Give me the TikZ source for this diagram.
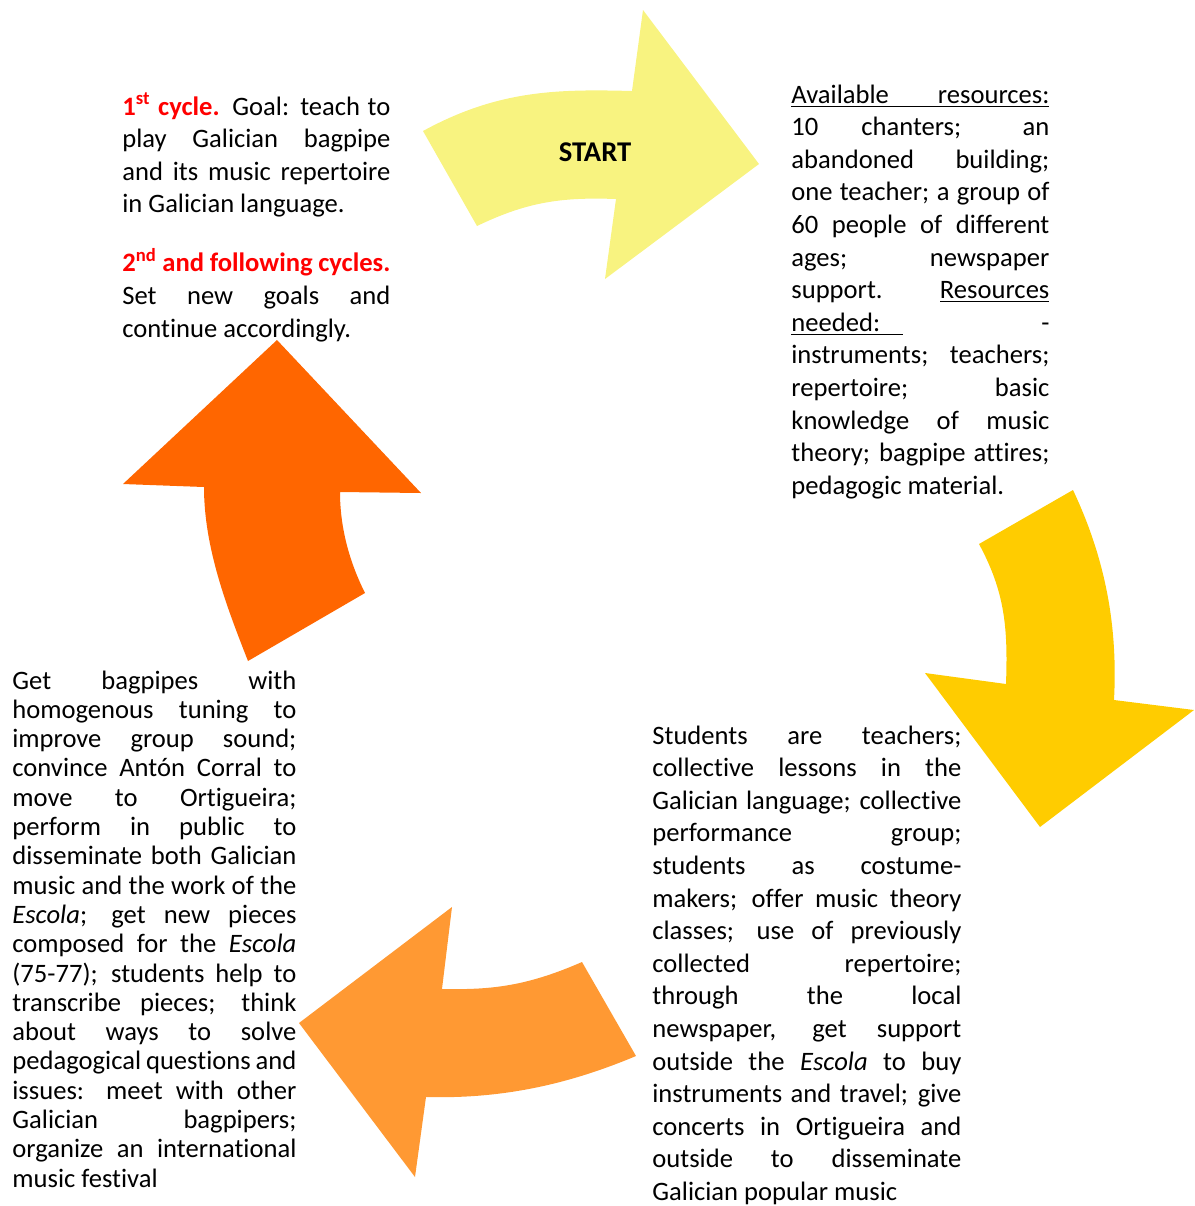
\documentclass[tikz,border=0pt]{standalone}
\usepackage{fontspec}
\setmainfont{Carlito}[Ligatures={TeX,NoCommon}]
\usepackage{xcolor}
\usepackage{tikz}
\definecolor{startyellow}{HTML}{F8F380}
\definecolor{cyclegold}{HTML}{FFCC00}
\definecolor{lightorange}{HTML}{FF9933}
\definecolor{deeporange}{HTML}{FF6600}
\tikzset{
  %% Text blocks (justified, lines broken as in the figure)
  cycletext/.style={
    anchor=base west, inner sep=0pt, align=justify,
    font=\fontsize{13.3}{16.3}\selectfont},
  tighttext/.style={
    cycletext, font=\fontsize{13.3}{14.65}\selectfont},
  %% Label on the first arrow
  startlabel/.style={
    inner sep=0pt, font=\fontsize{14.3}{16}\selectfont\bfseries},
  %% Block arrows
  arrowshape/.style={draw=none},
}
\newcommand{\cyclehead}[1]{{\color{red}\bfseries #1}}
\tolerance=10000
\hbadness=10000
\hyphenpenalty=10000

\begin{document}
\begin{tikzpicture}[x=0.5pt, y=-0.5pt]

  \useasboundingbox (0,0) rectangle (1195,1206);

  %% Start arrow (yellow)
  \fill[arrowshape, startyellow] (423,131) .. controls (498,90) and (557,89) .. (632,91)
    -- (643,10) -- (759,164) -- (605,279) -- (616,199)
    .. controls (561,197) and (527,202) .. (477,226) -- cycle;
  \node[startlabel] (start) at (595,152) {START};

  %% Second arrow (gold)
  \fill[arrowshape, cyclegold] (979,544) -- (1073,490)
    .. controls (1105,558) and (1118,625) .. (1114,700)
    -- (1194,710) -- (1040,827) -- (925,673) -- (1006,684)
    .. controls (1008,628) and (1005,592) .. (979,544) -- cycle;

  %% Third arrow (light orange)
  \fill[arrowshape, lightorange] (582,962) .. controls (527,986) and (492,990) .. (442,989)
    -- (452,907) -- (299,1023) -- (415,1177) -- (426,1097)
    .. controls (501,1099) and (567,1085) .. (636,1056) -- cycle;

  %% Fourth arrow (dark orange)
  \fill[arrowshape, deeporange] (277,340) -- (421,493) -- (340,492)
    .. controls (340,527) and (349,561) .. (365,593)
    -- (248,661) .. controls (226,605) and (204,547) .. (204,487)
    -- (123,484) -- cycle;

  %% Goals
  \node[cycletext, text width=134pt] (goals) at (122,115) {%
    \cyclehead{1\textsuperscript{st} cycle.} Goal: teach to\linebreak
    play Galician bagpipe\linebreak
    and its music repertoire\linebreak
    in Galician language.\par\vspace{13.2pt}
    \cyclehead{2\textsuperscript{nd} and following cycles.}\linebreak
    Set new goals and\linebreak
    continue accordingly.};

  %% Resources
  \node[cycletext, text width=129pt] (resources) at (791,103) {%
    \underline{\makebox[\linewidth][s]{Available resources:}}\linebreak
    10 chanters; an\linebreak
    abandoned building;\linebreak
    one teacher; a group of\linebreak
    60 people of different\linebreak
    ages; newspaper\linebreak
    support. \underline{Resources}\linebreak
    \underline{needed:\hspace{11.5pt}}\hfill-\linebreak
    instruments; teachers;\linebreak
    repertoire; basic\linebreak
    knowledge of music\linebreak
    theory; bagpipe attires;\linebreak
    pedagogic material.};

  %% Strategies
  \node[cycletext, text width=154.5pt] (strategies) at (652,744) {%
    Students are teachers;\linebreak
    collective lessons in the\linebreak
    Galician language; collective\linebreak
    performance group;\linebreak
    students as costume-\linebreak
    makers; offer music theory\linebreak
    classes; use of previously\linebreak
    collected repertoire;\linebreak
    through the local\linebreak
    newspaper, get support\linebreak
    outside the \textit{Escola} to buy\linebreak
    instruments and travel; give\linebreak
    concerts in Ortigueira and\linebreak
    outside to disseminate\linebreak
    Galician popular music};

  %% Evaluation
  \node[tighttext, text width=142pt] (evaluation) at (12,689) {%
    Get bagpipes with\linebreak
    homogenous tuning to\linebreak
    improve group sound;\linebreak
    convince Antón Corral to\linebreak
    move to Ortigueira;\linebreak
    perform in public to\linebreak
    disseminate both Galician\linebreak
    music and the work of the\linebreak
    \textit{Escola}; get new pieces\linebreak
    composed for the \textit{Escola}\linebreak
    (75-77); students help to\linebreak
    transcribe pieces; think\linebreak
    about ways to solve\linebreak
    pedagogical questions and\linebreak
    issues: meet with other\linebreak
    Galician bagpipers;\linebreak
    organize an international\linebreak
    music festival};

\end{tikzpicture}
\end{document}
